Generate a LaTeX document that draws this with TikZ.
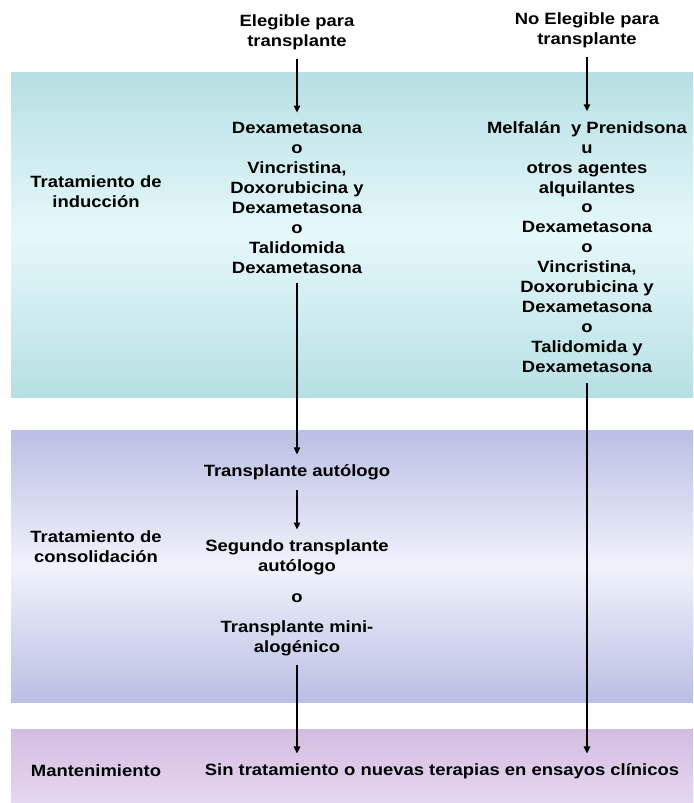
\documentclass[tikz,border=0pt]{standalone}
\usepackage{fontspec}
\setmainfont{Liberation Sans}[FakeStretch=1.13]
\usetikzlibrary{arrows.meta}
\definecolor{indtop}{RGB}{182,224,228}
\definecolor{indmid}{RGB}{230,248,250}
\definecolor{contop}{RGB}{186,191,228}
\definecolor{conmid}{RGB}{240,242,251}
\definecolor{mantop}{RGB}{211,189,225}
\definecolor{manbot}{RGB}{229,215,239}
\begin{document}
\begin{tikzpicture}[x=0.025cm,y=-0.025cm,
  txt/.style={align=center,font=\bfseries\fontsize{11.6}{14.2}\selectfont,inner sep=0pt,outer sep=7pt},
  flecha/.style={line width=1.1pt,-{Triangle[length=5pt,width=4.5pt]}}]
  \useasboundingbox (0,0) rectangle (693,803);
  % franjas de fondo
  \shade[top color=indtop,bottom color=indtop,middle color=indmid] (11,72) rectangle (693,397);
  \shade[top color=contop,bottom color=contop,middle color=conmid] (11,430) rectangle (693,702);
  \shade[top color=mantop,bottom color=manbot] (11,729) rectangle (693,803);
  % etiquetas de fase
  \node[txt] (tind) at (96,192) {Tratamiento de\\inducción};
  \node[txt] (tcon) at (96,547) {Tratamiento de\\consolidación};
  \node[txt] (tman) at (96,771) {Mantenimiento};
  % columna elegible
  \node[txt] (eleg) at (297,32) {Elegible para\\transplante};
  \node[txt] (indl) at (297,198) {Dexametasona\\o\\Vincristina,\\Doxorubicina y\\Dexametasona\\o\\Talidomida\\Dexametasona};
  \node[txt] (auto) at (297,472) {Transplante autólogo};
  \node[txt] (seg) at (297,557) {Segundo transplante\\autólogo};
  \node[txt,outer sep=0pt] (oo) at (297,598) {o};
  \node[txt] (mini) at (297,638) {Transplante mini-\\alogénico};
  % columna no elegible
  \node[txt] (noel) at (587,30) {No Elegible para\\transplante};
  \node[txt] (indr) at (587,247) {Melfalán\ \ y Prenidsona\\u\\otros agentes\\alquilantes\\o\\Dexametasona\\o\\Vincristina,\\Doxorubicina y\\Dexametasona\\o\\Talidomida y\\Dexametasona};
  % mantenimiento
  \node[txt] (sin) at (442,771) {Sin tratamiento o nuevas terapias en ensayos clínicos};
  % flechas
  \draw[flecha] (eleg) -- (indl);
  \draw[flecha] (noel) -- (indr);
  \draw[flecha] (indl) -- (auto);
  \draw[flecha] (auto) -- (seg);
  \draw[flecha] (mini.south) -- (mini.south |- sin.north);
  \draw[flecha] (indr.south) -- (indr.south |- sin.north);
\end{tikzpicture}
\end{document}
